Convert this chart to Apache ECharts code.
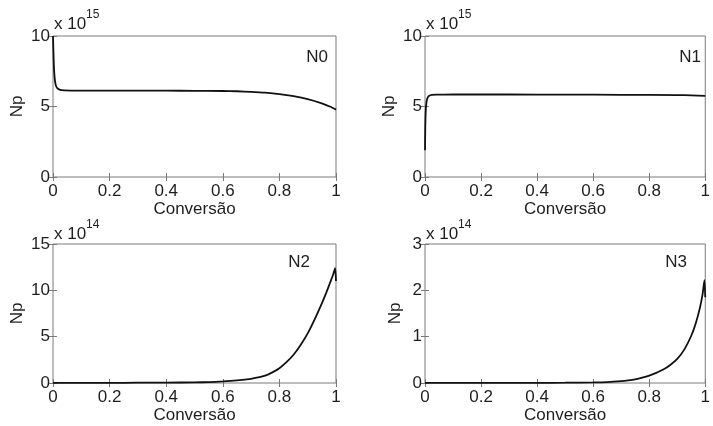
<!DOCTYPE html>
<html>
<head>
<meta charset="utf-8">
<script src="https://cdn.jsdelivr.net/npm/echarts@6/dist/echarts.min.js"></script>
<style>html,body{margin:0;padding:0;background:#fff}#c{width:713px;height:426px}</style>
</head>
<body>
<div id="c"></div>
<script>
// ---- data (values in units of the panel multiplier) ----
const panelLabels = ['N0', 'N1', 'N2', 'N3'];
const exponents = ['15', '15', '14', '14'];
const xAxisName = 'Conversão';
const yAxisName = 'Np';
const xTicks = { min: 0, max: 1, interval: 0.2 };
const yRanges = [
  { min: 0, max: 10, interval: 5 },
  { min: 0, max: 10, interval: 5 },
  { min: 0, max: 15, interval: 5 },
  { min: 0, max: 3, interval: 1 }
];

const n0X = [0, 0.003, 0.006, 0.01, 0.015, 0.025, 0.04, 0.1, 0.2, 0.3, 0.4, 0.5, 0.6, 0.65, 0.7, 0.75, 0.8, 0.85, 0.9, 0.95, 0.98, 1.0];
const n0Y = [10, 7.9, 7.0, 6.5, 6.3, 6.18, 6.15, 6.13, 6.12, 6.12, 6.12, 6.11, 6.1, 6.08, 6.04, 5.98, 5.88, 5.73, 5.52, 5.22, 4.98, 4.78];

const n1X = [0, 0.001, 0.003, 0.006, 0.01, 0.015, 0.025, 0.04, 0.1, 0.3, 0.5, 0.7, 0.9, 0.95, 1.0];
const n1Y = [1.9, 3.5, 4.8, 5.4, 5.65, 5.76, 5.82, 5.84, 5.85, 5.85, 5.84, 5.83, 5.81, 5.79, 5.76];

const n2X = [0, 0.1, 0.2, 0.3, 0.4, 0.5, 0.55, 0.6, 0.65, 0.7, 0.725, 0.75, 0.775, 0.8, 0.825, 0.85, 0.875, 0.9, 0.925, 0.95, 0.965, 0.98, 0.99, 0.997, 1.0];
const n2Y = [0.02, 0.02, 0.02, 0.03, 0.04, 0.07, 0.1, 0.17, 0.28, 0.45, 0.6, 0.8, 1.15, 1.6, 2.25, 3.05, 4.1, 5.35, 6.9, 8.6, 9.7, 10.9, 11.7, 12.4, 11.0];

const n3X = [0, 0.2, 0.4, 0.5, 0.6, 0.65, 0.7, 0.725, 0.75, 0.775, 0.8, 0.825, 0.85, 0.875, 0.9, 0.925, 0.95, 0.965, 0.98, 0.99, 0.997, 1.0];
const n3Y = [0.003, 0.003, 0.004, 0.006, 0.012, 0.02, 0.04, 0.057, 0.08, 0.115, 0.16, 0.22, 0.29, 0.39, 0.52, 0.72, 1.02, 1.27, 1.6, 1.9, 2.22, 1.85];

const seriesX = [n0X, n1X, n2X, n3X];
const seriesY = [n0Y, n1Y, n2Y, n3Y];

// ---- layout ----
const FONT = '"Liberation Sans", Arial, sans-serif';
const TXT = '#1e1e1e';
const AX = '#7a7a7a';
const grids = [
  { left: 53, top: 36, width: 283, height: 141 },
  { left: 425, top: 36, width: 283, height: 141 },
  { left: 53, top: 244, width: 283, height: 139 },
  { left: 425, top: 244, width: 283, height: 139 }
];
const yNameGaps = [27, 27, 27, 21];
const labelPos = [[317, 57], [690, 57], [299, 262], [676, 262]];

const xAxes = [], yAxes = [], series = [], graphics = [];
grids.forEach((g, i) => {
  const tick = { show: true, inside: true, length: 4, lineStyle: { color: AX, width: 1 } };
  xAxes.push({
    type: 'value', gridIndex: i, position: 'bottom', ...xTicks,
    axisLine: { show: false }, axisTick: tick, splitLine: { show: false },
    axisLabel: { color: TXT, fontFamily: FONT, fontSize: 17, margin: 6 },
    name: xAxisName, nameLocation: 'middle', nameGap: 22,
    nameTextStyle: { color: TXT, fontFamily: FONT, fontSize: 17 }
  });
  xAxes.push({
    type: 'value', gridIndex: i, position: 'top', ...xTicks,
    axisLine: { show: false }, axisTick: tick, splitLine: { show: false },
    axisLabel: { show: false }
  });
  yAxes.push({
    type: 'value', gridIndex: i, position: 'left', ...yRanges[i],
    axisLine: { show: false }, axisTick: tick, splitLine: { show: false },
    axisLabel: { color: TXT, fontFamily: FONT, fontSize: 17, margin: 3 },
    name: yAxisName, nameLocation: 'middle', nameGap: yNameGaps[i],
    nameTextStyle: { color: TXT, fontFamily: FONT, fontSize: 17 }
  });
  yAxes.push({
    type: 'value', gridIndex: i, position: 'right', ...yRanges[i],
    axisLine: { show: false }, axisTick: tick, splitLine: { show: false },
    axisLabel: { show: false }
  });
  series.push({
    type: 'line', xAxisIndex: i * 2, yAxisIndex: i * 2,
    data: seriesX[i].map((x, k) => [x, seriesY[i][k]]),
    showSymbol: false, symbol: 'none', smooth: 0.2,
    lineStyle: { color: '#111', width: 1.8 }, z: 5, silent: true
  });
  const multTop = i < 2 ? g.top - 11 : g.top - 9.5;
  graphics.push({
    type: 'text', left: g.left + 1, top: multTop - 9,
    style: { text: 'x 10', fill: TXT, font: '17px ' + FONT }
  });
  graphics.push({
    type: 'text', left: g.left + 33, top: multTop - 16,
    style: { text: exponents[i], fill: TXT, font: '12px ' + FONT }
  });
  graphics.push({
    type: 'text', x: labelPos[i][0], y: labelPos[i][1],
    style: { text: panelLabels[i], fill: TXT, font: '17px ' + FONT, align: 'center', verticalAlign: 'middle' }
  });
});

const chart = echarts.init(document.getElementById('c'), null, { renderer: 'canvas' });
chart.setOption({
  backgroundColor: '#fff',
  animation: false,
  grid: grids.map(g => ({ ...g, show: true, borderColor: AX, borderWidth: 1, backgroundColor: 'transparent', containLabel: false })),
  xAxis: xAxes,
  yAxis: yAxes,
  series: series,
  graphic: graphics
});
</script>
</body>
</html>
